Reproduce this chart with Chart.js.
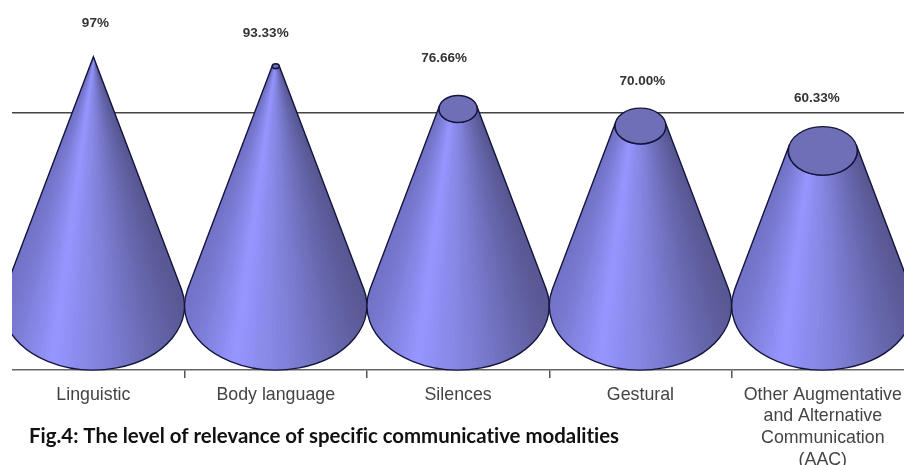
<!DOCTYPE html>
<html>
<head>
<meta charset="utf-8">
<title>Communicative modalities</title>
<script src="https://cdn.jsdelivr.net/npm/chart.js@4"></script>
<style>
    html, body { margin: 0; padding: 0; background: #fff; overflow: hidden; }
    #chart { display: block; clip-path: inset(0 0 0 12px); }
</style>
</head>
<body>
<canvas id="chart" width="916" height="465"></canvas>
<script>
const categories = [
    'Linguistic',
    'Body language',
    'Silences',
    'Gestural',
    ['Other Augmentative', 'and Alternative', 'Communication', '(AAC)']
];
const relevance = [97, 93.33, 76.66, 70, 60.33];
const valueLabels = ['97%', '93.33%', '76.66%', '70.00%', '60.33%'];
const gridTicks = [75];

// where each value label sits relative to the top of its cone
const labelShiftX = [2, -10, -14, 2, -6];
const labelShiftY = [-33, -33, -51, -45, -53];

const caption = 'Fig.4: The level of relevance of specific communicative modalities';

// shade along the front of the cone, 0 = left edge, 1 = right edge
const shadeStops = [
    [0, [115, 115, 200]],
    [0.27, [150, 150, 255]],
    [0.6, [125, 125, 212]],
    [1, [88, 88, 148]]
];

function shade(u) {
    for (let i = 1; i < shadeStops.length; i++) {
        const a = shadeStops[i - 1], b = shadeStops[i];
        if (u <= b[0]) {
            const t = (u - a[0]) / (b[0] - a[0]);
            const c = a[1].map((v, k) => Math.round(v + (b[1][k] - v) * t));
            return 'rgb(' + c.join(',') + ')';
        }
    }
    return 'rgb(88,88,148)';
}

// Draws one cone: the bar gives centre, width and base, the value gives the cut height
function drawCone(ctx, cx, topY, baseY, rx, ry, apexY) {
    const scale = (topY - apexY) / (baseY - apexY);
    const rxTop = rx * scale, ryTop = ry * scale;
    const sinT = ry / (baseY - apexY);
    const t0 = -Math.asin(sinT);
    const t1 = Math.PI - t0;

    const outline = () => {
        ctx.beginPath();
        ctx.ellipse(cx, baseY, rx, ry, 0, t0, t1);
        if (rxTop > 0.5) {
            ctx.ellipse(cx, topY, rxTop, ryTop, 0, t1, t0, true);
        } else {
            ctx.lineTo(cx, apexY);
        }
        ctx.closePath();
    };

    ctx.save();
    outline();
    ctx.clip();
    const steps = 70;
    for (let i = 0; i < steps; i++) {
        const a = t0 + (t1 - t0) * i / steps;
        const b = t0 + (t1 - t0) * (i + 1) / steps;
        const color = shade((1 + Math.cos((a + b) / 2)) / 2);
        ctx.fillStyle = color;
        ctx.strokeStyle = color;
        ctx.lineWidth = 1;
        ctx.beginPath();
        ctx.moveTo(cx + rx * Math.cos(a), baseY + ry * Math.sin(a));
        ctx.lineTo(cx + rx * Math.cos(b), baseY + ry * Math.sin(b));
        ctx.lineTo(cx + rxTop * Math.cos(b), topY + ryTop * Math.sin(b));
        ctx.lineTo(cx + rxTop * Math.cos(a), topY + ryTop * Math.sin(a));
        ctx.closePath();
        ctx.fill();
        ctx.stroke();
    }
    ctx.restore();

    ctx.strokeStyle = '#15153c';
    ctx.lineWidth = 1.4;
    outline();
    ctx.stroke();

    if (rxTop > 0.5) {
        ctx.beginPath();
        ctx.ellipse(cx, topY, rxTop, ryTop, 0, 0, Math.PI * 2);
        ctx.fillStyle = '#6f6fb8';
        ctx.fill();
        ctx.stroke();
    }
}

const conePlugin = {
    id: 'cones',
    afterDatasetsDraw(chart) {
        const ctx = chart.ctx;
        const yScale = chart.scales.y;
        const bars = chart.getDatasetMeta(0).data;
        const apexY = yScale.getPixelForValue(Math.max(...relevance));

        bars.forEach((bar) => {
            const rx = bar.width / 2;
            const ry = chart.chartArea.bottom - bar.base;
            drawCone(ctx, bar.x, bar.y, bar.base, rx, ry, apexY);
        });

        // value labels above the cones
        ctx.save();
        ctx.font = 'bold 13.5px "Liberation Sans"';
        ctx.fillStyle = '#333333';
        ctx.textAlign = 'center';
        ctx.textBaseline = 'middle';
        bars.forEach((bar, i) => {
            ctx.fillText(valueLabels[i], bar.x + labelShiftX[i], bar.y + labelShiftY[i]);
        });

        ctx.font = 'bold 20.4px Lato';
        ctx.textRendering = 'optimizeSpeed';
        ctx.fillStyle = '#111111';
        ctx.textAlign = 'left';
        ctx.fillText(caption, 29, 436);
        ctx.restore();
    }
};

new Chart(document.getElementById('chart'), {
    type: 'bar',
    data: {
        labels: categories,
        datasets: [{
            data: relevance,
            backgroundColor: 'rgba(0, 0, 0, 0)',
            barPercentage: 1,
            categoryPercentage: 1
        }]
    },
    options: {
        responsive: false,
        animation: false,
        layout: { padding: { left: 2.2, right: 2, top: 49, bottom: 0 } },
        plugins: { legend: { display: false }, tooltip: { enabled: false } },
        scales: {
            x: {
                offset: true,
                grid: { offset: true, drawOnChartArea: false, color: '#555555', tickLength: 8, lineWidth: 1.5 },
                border: { color: '#666666', width: 1.5 },
                ticks: {
                    autoSkip: false,
                    maxRotation: 0,
                    padding: 6,
                    color: '#444444',
                    font: { family: '"Liberation Sans"', size: 17.8, lineHeight: 1.22 }
                },
                afterFit(scale) { scale.height = 95; }
            },
            y: {
                min: -25,
                max: 100,
                afterBuildTicks(scale) { scale.ticks = gridTicks.map(v => ({ value: v })); },
                grid: { color: '#444444', lineWidth: 1.6, drawTicks: false },
                border: { display: false },
                ticks: { display: false }
            }
        }
    },
    plugins: [conePlugin]
});
</script>
</body>
</html>
